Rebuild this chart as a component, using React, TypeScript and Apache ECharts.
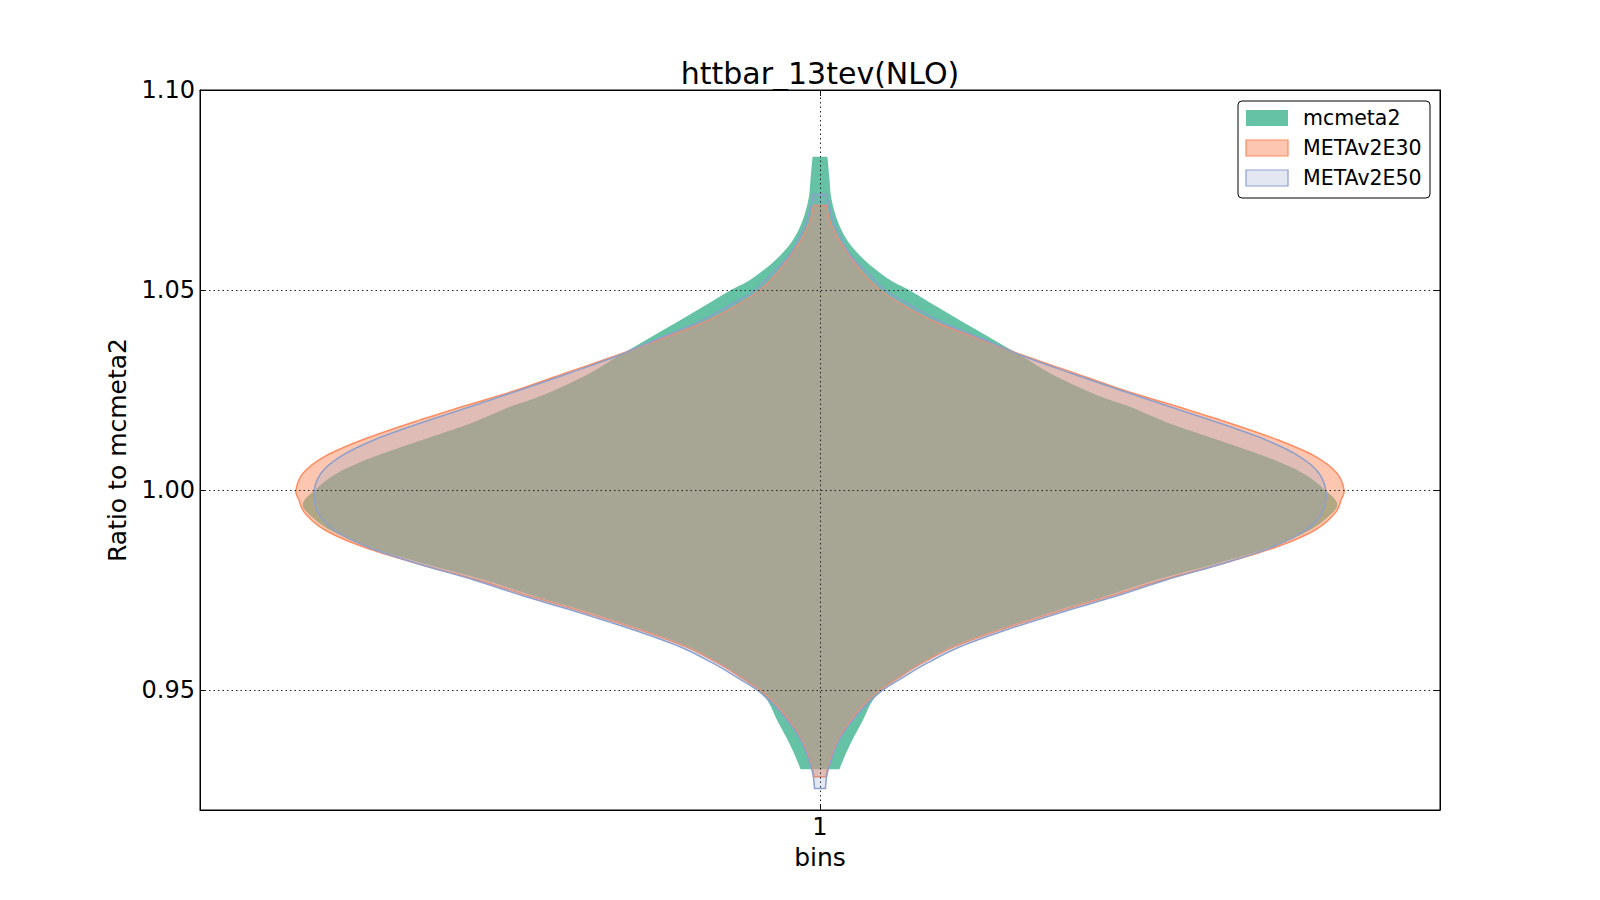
import React, { useEffect, useRef } from "react";
import * as echarts from "echarts";

// ---- data ----
const chartTitle = "httbar_13tev(NLO)";
const binLabels = ["1"];
const binPositions = [1];
const yTickValues = [0.95, 1.0, 1.05, 1.1];
const seriesNames = ["mcmeta2", "METAv2E30", "METAv2E50"];

// mcmeta2: ratio values (bottom -> top) and violin half-widths (x units)
const mcmeta2Ratio = [
  0.9302, 0.9342, 0.9383, 0.9425, 0.9467, 0.95, 0.9533, 0.9567, 0.9608, 0.965,
  0.97, 0.9733, 0.9775, 0.9817, 0.9858, 0.99, 0.9942, 0.9968, 1.0, 1.0042,
  1.0083, 1.0125, 1.0167, 1.0208, 1.0225, 1.025, 1.0292, 1.0333, 1.0375, 1.0417,
  1.0458, 1.05, 1.0525, 1.0567, 1.0608, 1.065, 1.0692, 1.0733, 1.0775, 1.0833,
];
const mcmeta2Width = [
  0.0157, 0.021, 0.0274, 0.0347, 0.0411, 0.05, 0.0653, 0.0815, 0.1065, 0.1427,
  0.1927, 0.229, 0.271, 0.321, 0.3645, 0.3952, 0.4129, 0.4169, 0.4073, 0.3895,
  0.3597, 0.321, 0.2815, 0.25, 0.2339, 0.2137, 0.1855, 0.1637, 0.1403, 0.1169,
  0.0944, 0.0718, 0.0565, 0.0387, 0.0258, 0.0173, 0.0121, 0.0089, 0.0077, 0.006,
];

// METAv2E30
const e30Ratio = [
  0.9283, 0.93, 0.9342, 0.9383, 0.9425, 0.9467, 0.95, 0.9533, 0.9567, 0.9608,
  0.965, 0.97, 0.9733, 0.9775, 0.9817, 0.9858, 0.99, 0.9942, 0.9975, 1.0,
  1.0042, 1.0083, 1.0125, 1.0167, 1.0208, 1.025, 1.0292, 1.0333, 1.0375, 1.0417,
  1.0458, 1.05, 1.0542, 1.0583, 1.0625, 1.065, 1.0667, 1.069, 1.0711,
];
const e30Width = [
  0.0048, 0.006, 0.0101, 0.0161, 0.025, 0.0363, 0.0484, 0.0645, 0.0823, 0.1081,
  0.1452, 0.196, 0.2323, 0.2758, 0.3258, 0.3685, 0.3992, 0.4153, 0.4202, 0.4226,
  0.4169, 0.4, 0.3694, 0.3306, 0.2887, 0.2444, 0.2056, 0.1669, 0.1306, 0.0952,
  0.0694, 0.0484, 0.0347, 0.0246, 0.0153, 0.0113, 0.0085, 0.0065, 0.0052,
];

// METAv2E50
const e50Ratio = [
  0.9254, 0.928, 0.93, 0.9342, 0.9383, 0.9425, 0.9467, 0.95, 0.9533, 0.9567,
  0.9608, 0.965, 0.97, 0.9733, 0.9775, 0.9817, 0.9858, 0.99, 0.9942, 0.9993,
  1.0042, 1.0083, 1.0125, 1.0167, 1.0208, 1.025, 1.0292, 1.0333, 1.0375, 1.0417,
  1.0458, 1.05, 1.0542, 1.0585, 1.0625, 1.0667, 1.0692, 1.0715, 1.0739,
];
const e50Width = [
  0.0044, 0.0052, 0.0065, 0.0109, 0.0169, 0.0266, 0.0387, 0.0508, 0.0677, 0.0863,
  0.1129, 0.15, 0.2008, 0.2371, 0.279, 0.3258, 0.3653, 0.3919, 0.4048, 0.4081,
  0.4024, 0.3871, 0.3597, 0.3226, 0.2823, 0.2419, 0.2024, 0.1653, 0.1331, 0.1,
  0.075, 0.0524, 0.0387, 0.025, 0.0177, 0.0113, 0.0089, 0.0069, 0.0056,
];

const FONT = "DejaVu Sans";
const fills = ["#66c2a5", "rgba(252,141,98,0.5)", "rgba(141,160,203,0.25)"];
const strokes = ["#66c2a5", "#fc8d62", "#8da0cb"];
const strokeWidths = [0, 1.5, 1.5];

// smooth curve through the screen points of one side (Catmull-Rom as cubic Beziers)
function sideCurve(p: number[][]): string {
  let d = "";
  for (let i = 0; i < p.length - 1; i++) {
    const p0 = p[Math.max(i - 1, 0)];
    const p1 = p[i];
    const p2 = p[i + 1];
    const p3 = p[Math.min(i + 2, p.length - 1)];
    const c1x = p1[0] + (p2[0] - p0[0]) / 6;
    const c1y = p1[1] + (p2[1] - p0[1]) / 6;
    const c2x = p2[0] - (p3[0] - p1[0]) / 6;
    const c2y = p2[1] - (p3[1] - p1[1]) / 6;
    d += ` C ${c1x.toFixed(2)} ${c1y.toFixed(2)} ${c2x.toFixed(2)} ${c2y.toFixed(2)} ${p2[0].toFixed(2)} ${p2[1].toFixed(2)}`;
  }
  return d;
}

function violinSeries(
  name: string,
  center: number,
  ratios: number[],
  widths: number[],
  fill: string,
  stroke: string,
  lineWidth: number,
  extra: any = {}
) {
  return {
    type: "custom",
    name,
    coordinateSystem: "cartesian2d",
    silent: true,
    z: 2,
    data: [[center, ratios[0]]],
    renderItem: (_params: any, api: any) => {
      const right: number[][] = ratios.map((r, i) => api.coord([center + widths[i], r]));
      const left: number[][] = ratios.map((r, i) => api.coord([center - widths[i], r])).reverse();
      let d = `M ${right[0][0].toFixed(2)} ${right[0][1].toFixed(2)}`;
      d += sideCurve(right);
      d += ` L ${left[0][0].toFixed(2)} ${left[0][1].toFixed(2)}`;
      d += sideCurve(left);
      d += " Z";
      return {
        type: "path",
        shape: { pathData: d },
        style: {
          fill,
          stroke: lineWidth > 0 ? stroke : null,
          lineWidth,
          lineJoin: "round",
        },
      };
    },
    ...extra,
  };
}

export default function App() {
  const ref = useRef<HTMLDivElement>(null);

  useEffect(() => {
    const chart = echarts.init(ref.current as HTMLDivElement, null, { renderer: "svg" });

    const labelFor = (v: number) => {
      const idx = binPositions.findIndex((p) => Math.abs(p - v) < 1e-9);
      return idx >= 0 ? binLabels[idx] : "";
    };

    const legendGraphics: any[] = [
      {
        type: "rect",
        z: 100,
        shape: { x: 1238, y: 101, width: 192, height: 97, r: 4 },
        style: { fill: "#fff", stroke: "#000", lineWidth: 1 },
      },
    ];
    seriesNames.forEach((n, i) => {
      legendGraphics.push({
        type: "rect",
        z: 101,
        shape: { x: 1246, y: 110 + 30 * i, width: 42, height: 16 },
        style: {
          fill: fills[i],
          stroke: strokeWidths[i] > 0 ? strokes[i] : null,
          lineWidth: strokeWidths[i] > 0 ? 1.2 : 0,
        },
      });
      legendGraphics.push({
        type: "text",
        z: 101,
        x: 1303,
        y: 118 + 30 * i,
        style: {
          text: n,
          fontSize: 20.5,
          fontFamily: FONT,
          fill: "#000",
          verticalAlign: "middle",
          align: "left",
        },
      });
    });

    const gridLines = {
      silent: true,
      symbol: ["none", "none"],
      label: { show: false },
      emphasis: { disabled: true },
      lineStyle: { type: [1.5, 3], color: "#222", width: 1 },
      data: [
        ...yTickValues.filter((v) => v < 1.1).map((v) => ({ yAxis: v })),
        ...binPositions.map((p) => ({ xAxis: p })),
      ],
    };

    const option: any = {
      animation: false,
      backgroundColor: "#fff",
      textStyle: { fontFamily: FONT },
      title: {
        text: chartTitle,
        left: 815,
        textAlign: "center",
        top: 53,
        textStyle: { fontSize: 30, fontWeight: "normal", fontFamily: FONT, color: "#000" },
      },
      grid: {
        left: 200,
        right: 160,
        top: 90,
        bottom: 90,
        show: true,
        borderColor: "#000",
        borderWidth: 1,
        backgroundColor: "transparent",
      },
      xAxis: [
        {
          type: "value",
          min: 0.5,
          max: 1.5,
          interval: 0.5,
          name: "bins",
          nameLocation: "middle",
          nameGap: 35,
          nameTextStyle: { fontSize: 25, fontFamily: FONT, color: "#000", lineHeight: 25 },
          axisLine: { show: true, lineStyle: { color: "#000", width: 1 } },
          axisTick: { show: true, inside: true, length: 6, lineStyle: { color: "#000" } },
          axisLabel: {
            formatter: (v: number) => labelFor(v),
            fontSize: 24,
            fontFamily: FONT,
            color: "#000",
            margin: 5,
            lineHeight: 24,
          },
          splitLine: { show: false },
        },
        {
          type: "value",
          position: "top",
          min: 0.5,
          max: 1.5,
          interval: 0.5,
          axisLine: { show: true, lineStyle: { color: "#000", width: 1 } },
          axisTick: { show: true, inside: true, length: 6, lineStyle: { color: "#000" } },
          axisLabel: { show: false },
          splitLine: { show: false },
        },
      ],
      yAxis: [
        {
          type: "value",
          min: 0.92,
          max: 1.1,
          name: "Ratio to mcmeta2",
          nameLocation: "middle",
          nameGap: 70,
          nameRotate: 90,
          nameTextStyle: { fontSize: 25, fontFamily: FONT, color: "#000", lineHeight: 25 },
          axisLine: { show: true, lineStyle: { color: "#000", width: 1 } },
          axisTick: {
            show: true,
            inside: true,
            length: 6,
            customValues: yTickValues,
            lineStyle: { color: "#000" },
          },
          axisLabel: {
            customValues: yTickValues,
            formatter: (v: number) => v.toFixed(2),
            fontSize: 24,
            fontFamily: FONT,
            color: "#000",
            margin: 5,
            showMinLabel: true,
            showMaxLabel: true,
          },
          splitLine: { show: false },
        },
        {
          type: "value",
          position: "right",
          min: 0.92,
          max: 1.1,
          axisLine: { show: true, lineStyle: { color: "#000", width: 1 } },
          axisTick: {
            show: true,
            inside: true,
            length: 6,
            customValues: yTickValues,
            lineStyle: { color: "#000" },
          },
          axisLabel: { show: false, customValues: yTickValues },
          splitLine: { show: false },
        },
      ],
      series: [
        violinSeries(seriesNames[0], binPositions[0], mcmeta2Ratio, mcmeta2Width, fills[0], strokes[0], strokeWidths[0]),
        violinSeries(seriesNames[1], binPositions[0], e30Ratio, e30Width, fills[1], strokes[1], strokeWidths[1]),
        violinSeries(seriesNames[2], binPositions[0], e50Ratio, e50Width, fills[2], strokes[2], strokeWidths[2], {
          markLine: gridLines,
        }),
      ],
      graphic: legendGraphics,
    };

    chart.setOption(option);
    return () => chart.dispose();
  }, []);

  return (
    <div
      ref={ref}
      style={{ position: "fixed", left: 0, top: 0, width: 1600, height: 900, background: "#fff" }}
    />
  );
}
